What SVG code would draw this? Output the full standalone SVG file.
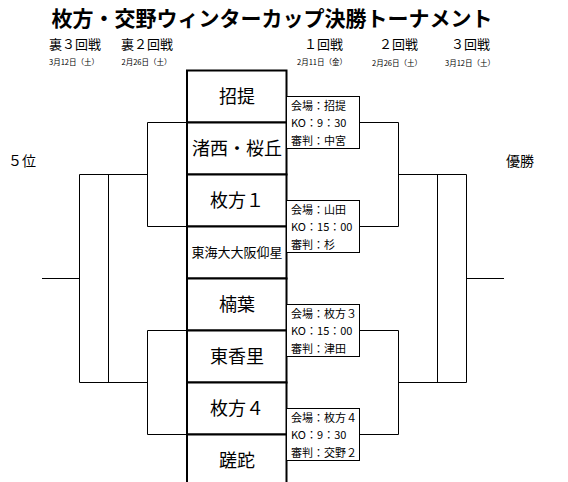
<svg xmlns="http://www.w3.org/2000/svg" width="568" height="482" viewBox="0 0 568 482">
<style>
text{font-family:"Noto Sans CJK JP","Noto Sans",sans-serif;fill:#000;dominant-baseline:central}
.title{font-size:21px;font-weight:bold;text-anchor:middle}
.round{font-size:13px}
.date{font-size:7.5px}
.team{font-size:18px;text-anchor:middle}
.teamS{font-size:13px;text-anchor:middle}
.info{font-size:11px}
.side{font-size:14px}
.box{fill:#fff;stroke:#000;stroke-width:2}
.ibox{fill:#fff;stroke:#000;stroke-width:1}
.ln{fill:none;stroke:#000;stroke-width:1}
</style>
<rect width="568" height="482" fill="#fff"/>
<text class="title" x="272" y="16.5">枚方・交野ウィンターカップ決勝トーナメント</text>
<g id="headers">
<text class="round" x="49" y="43">裏３回戦</text>
<text class="round" x="121" y="43">裏２回戦</text>
<text class="round" x="304" y="43">１回戦</text>
<text class="round" x="379" y="43">２回戦</text>
<text class="round" x="451" y="43">３回戦</text>
<text class="date" x="49" y="61">3月12日（土）</text>
<text class="date" x="121.5" y="61">2月26日（土）</text>
<text class="date" x="297" y="61.5">2月11日（金）</text>
<text class="date" x="372" y="62.5">2月26日（土）</text>
<text class="date" x="445" y="62.5">3月12日（土）</text>
<text class="side" x="8" y="160">５位</text>
<text class="side" x="506" y="160">優勝</text>
</g>
<g id="connectors">
<path class="ln" d="M147.5,122.5H187M147.5,122.5V226.5H187M147.5,174.5H79.5M147.5,330.5H187M147.5,330.5V434.5H187M147.5,382.5H79.5M79.5,174.5V382.5M108.5,174.5V382.5M79.5,278.5H42"/>
<path class="ln" d="M359.5,122.5H398.5V226.5H359.5M398.5,174.5H466.5M359.5,330.5H398.5V434.5H359.5M398.5,382.5H466.5M466.5,174.5V382.5M437.5,174.5V382.5M466.5,278.5H504"/>
</g>
<g id="team-1"><rect class="box" x="187" y="70.5" width="99.5" height="52"/><text class="team" x="237" y="94.5">招提</text></g>
<g id="team-2"><rect class="box" x="187" y="122.5" width="99.5" height="52"/><text class="team" x="237" y="146.5">渚西・桜丘</text></g>
<g id="team-3"><rect class="box" x="187" y="174.5" width="99.5" height="52"/><text class="team" x="237" y="198.5">枚方１</text></g>
<g id="team-4"><rect class="box" x="187" y="226.5" width="99.5" height="52"/><text class="teamS" x="237" y="251">東海大大阪仰星</text></g>
<g id="team-5"><rect class="box" x="187" y="278.5" width="99.5" height="52"/><text class="team" x="237" y="302.5">楠葉</text></g>
<g id="team-6"><rect class="box" x="187" y="330.5" width="99.5" height="52"/><text class="team" x="237" y="354.5">東香里</text></g>
<g id="team-7"><rect class="box" x="187" y="382.5" width="99.5" height="52"/><text class="team" x="237" y="406.5">枚方４</text></g>
<g id="team-8"><rect class="box" x="187" y="434.5" width="99.5" height="52"/><text class="team" x="237" y="458.5">蹉跎</text></g>
<g id="match-1"><rect class="ibox" x="286.5" y="96.5" width="73" height="52"/>
<text class="info" x="291" y="104.5">会場：招提</text><text class="info" x="291" y="122">KO：9：30</text><text class="info" x="291" y="139.5">審判：中宮</text></g>
<g id="match-2"><rect class="ibox" x="286.5" y="200.5" width="73" height="52"/>
<text class="info" x="291" y="208.5">会場：山田</text><text class="info" x="291" y="226">KO：15：00</text><text class="info" x="291" y="243.5">審判：杉</text></g>
<g id="match-3"><rect class="ibox" x="286.5" y="304.5" width="73" height="52"/>
<text class="info" x="291" y="312.5">会場：枚方３</text><text class="info" x="291" y="330">KO：15：00</text><text class="info" x="291" y="347.5">審判：津田</text></g>
<g id="match-4"><rect class="ibox" x="286.5" y="408.5" width="73" height="52"/>
<text class="info" x="291" y="416.5">会場：枚方４</text><text class="info" x="291" y="434">KO：9：30</text><text class="info" x="291" y="451.5">審判：交野２</text></g>
</svg>
